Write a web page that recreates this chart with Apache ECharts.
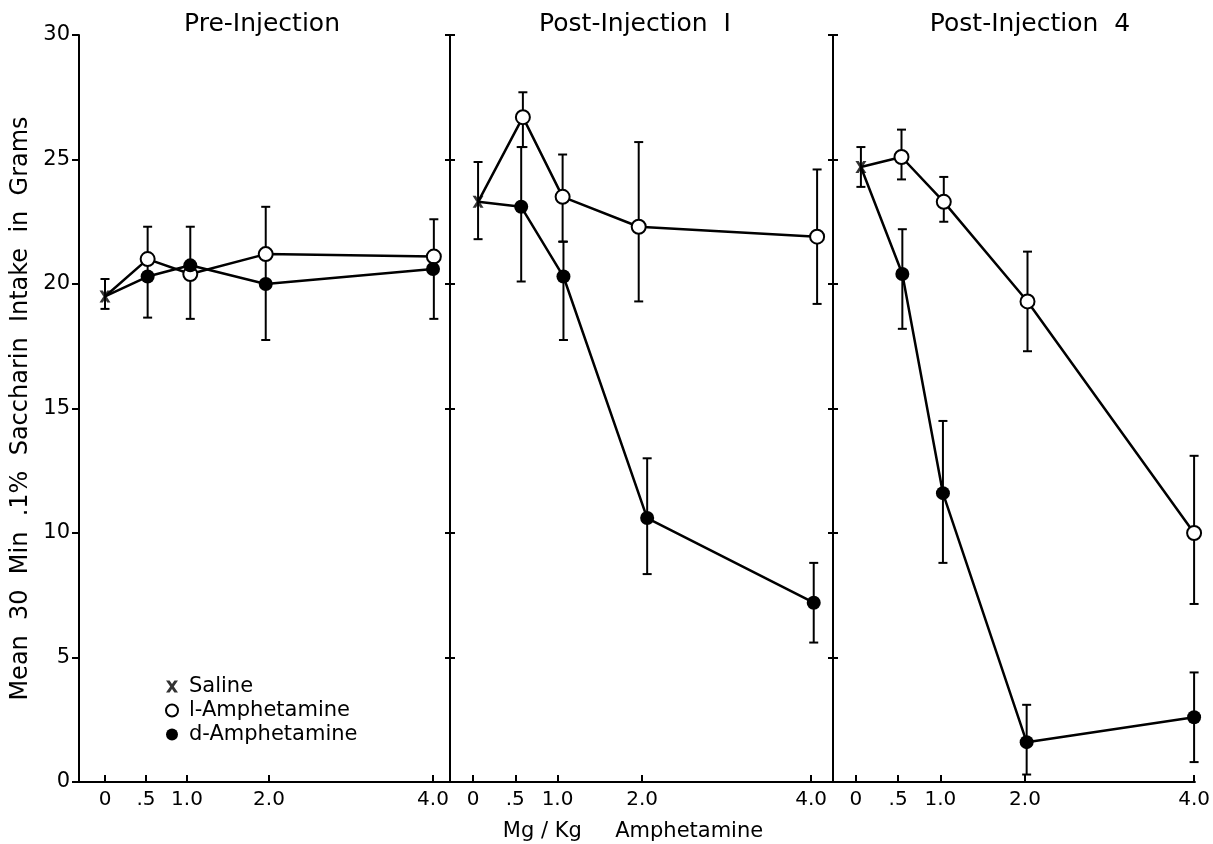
<!DOCTYPE html>
<html>
<head>
<meta charset="utf-8">
<title>Saccharin intake</title>
<script src="https://cdn.jsdelivr.net/npm/echarts/dist/echarts.min.js"></script>
<style>
  body { margin: 0; background: #fff; }
  #chart { width: 1213px; height: 844px; }
</style>
</head>
<body>
<div id="chart"></div>
<script>
// x ticks (mg/kg)
const xTickValues = [0, 0.5, 1, 2, 4];
const xTickLabels = ['0', '.5', '1.0', '2.0', '4.0'];
const panelTitles = ['Pre-Injection', 'Post-Injection  I', 'Post-Injection  4'];

// Pre-Injection
const preSaline = [[0, 19.5]];
const preL = [[0.52, 21.0], [1.04, 20.4], [1.96, 21.2], [4.01, 21.1]];
const preD = [[0.52, 20.3], [1.04, 20.75], [1.96, 20.0], [4.0, 20.6]];
const preErr = [[0, 19.0, 20.2], [0.52, 18.65, 22.3], [1.04, 18.6, 22.3], [1.96, 17.75, 23.1], [4.01, 18.6, 22.6]];

// Post-Injection 1
const post1Saline = [[0.06, 23.3]];
const post1L = [[0.59, 26.7], [1.06, 23.5], [1.96, 22.3], [4.07, 21.9]];
const post1D = [[0.57, 23.1], [1.07, 20.3], [2.06, 10.6], [4.03, 7.2]];
const post1Err = [[0.06, 21.8, 24.9], [0.59, 25.5, 27.7], [0.57, 20.1, 25.5], [1.06, 21.7, 25.2], [1.07, 17.75, 21.7],
  [1.96, 19.3, 25.7], [2.06, 8.35, 13.0], [4.07, 19.2, 24.6], [4.03, 5.6, 8.8]];

// Post-Injection 4
const post4Saline = [[0.06, 24.7]];
const post4L = [[0.54, 25.1], [1.04, 23.3], [2.03, 19.3], [4.0, 10.0]];
const post4D = [[0.55, 20.4], [1.03, 11.6], [2.02, 1.6], [4.0, 2.6]];
const post4Err = [[0.06, 23.9, 25.5], [0.54, 24.2, 26.2], [0.55, 18.2, 22.2], [1.04, 22.5, 24.3], [1.03, 8.8, 14.5],
  [2.03, 17.3, 21.3], [2.02, 0.3, 3.1], [4.0, 7.15, 13.1], [4.0, 0.8, 4.4]];

const panels = [
  { saline: preSaline, l: preL, d: preD, err: preErr },
  { saline: post1Saline, l: post1L, d: post1D, err: post1Err },
  { saline: post4Saline, l: post4L, d: post4D, err: post4Err }
];

const FONT = 'DejaVu Sans';
const grids = [
  { left: 79, top: 35, width: 371, height: 747 },
  { left: 450, top: 35, width: 383, height: 747 },
  { left: 833, top: 35, width: 363, height: 747 }
];
const xRanges = [[-0.317, 4.207], [-0.272, 4.258], [-0.27, 4.01]];
const titleX = [262, 635, 1030];
const crossPath = 'path://M0,0L3,0L5,3L7,0L10,0L6.5,5L10,10L7,10L5,7L3,10L0,10L3.5,5Z';

let chart = echarts.init(document.getElementById('chart'));

let axisLine = { show: true, onZero: false, lineStyle: { color: '#000', width: 2 } };

let xAxis = grids.map((g, i) => ({
  type: 'value',
  gridIndex: i,
  min: xRanges[i][0],
  max: xRanges[i][1],
  axisLine: axisLine,
  axisTick: { show: true, inside: true, length: 7, customValues: xTickValues, lineStyle: { color: '#000', width: 2 } },
  axisLabel: {
    customValues: xTickValues,
    margin: 8,
    color: '#000',
    fontFamily: FONT,
    fontSize: 20,
    formatter: v => xTickLabels[xTickValues.indexOf(v)]
  },
  splitLine: { show: false }
}));

function yAx(grid, pos, inside, labels) {
  let a = {
    type: 'value',
    gridIndex: grid,
    position: pos,
    min: 0,
    max: 30,
    interval: 5,
    axisLine: axisLine,
    axisTick: { show: true, inside: inside, length: inside ? 5 : 7, lineStyle: { color: '#000', width: 2 } },
    axisLabel: { show: labels, color: '#000', fontFamily: FONT, fontSize: 21, margin: 9 },
    splitLine: { show: false }
  };
  return a;
}
let yAxis = [yAx(0, 'left', false, true), yAx(0, 'right', true, false), yAx(1, 'left', true, false),
  yAx(1, 'right', true, false), yAx(2, 'left', true, false)];
yAxis[0].name = 'Mean  30  Min  .1%  Saccharin  Intake  in  Grams';
yAxis[0].nameLocation = 'middle';
yAxis[0].nameGap = 46;
yAxis[0].nameTextStyle = { color: '#000', fontFamily: FONT, fontSize: 24 };
const yIdx = [0, 2, 4];

function errRender(params, api) {
  let x = api.value(0);
  let lo = api.coord([x, api.value(1)]);
  let hi = api.coord([x, api.value(2)]);
  let st = { stroke: '#000', lineWidth: 2 };
  return {
    type: 'group',
    children: [
      { type: 'line', shape: { x1: lo[0], y1: lo[1], x2: hi[0], y2: hi[1] }, style: st },
      { type: 'line', shape: { x1: lo[0] - 4.5, y1: lo[1], x2: lo[0] + 4.5, y2: lo[1] }, style: st },
      { type: 'line', shape: { x1: hi[0] - 4.5, y1: hi[1], x2: hi[0] + 4.5, y2: hi[1] }, style: st }
    ]
  };
}

let series = [];
panels.forEach((p, i) => {
  let common = { xAxisIndex: i, yAxisIndex: yIdx[i] };
  series.push(Object.assign({
    type: 'custom', name: 'err' + i, renderItem: errRender, data: p.err, z: 2, silent: true
  }, common));
  series.push(Object.assign({
    type: 'line', name: 'lline' + i, data: p.saline.concat(p.l), symbol: 'none',
    lineStyle: { color: '#000', width: 2.5 }, z: 3, silent: true
  }, common));
  series.push(Object.assign({
    type: 'line', name: 'dline' + i, data: p.saline.concat(p.d), symbol: 'none',
    lineStyle: { color: '#000', width: 2.5 }, z: 3, silent: true
  }, common));
  series.push(Object.assign({
    type: 'scatter', name: 'Saline', data: p.saline, symbol: crossPath, symbolSize: [11, 12],
    itemStyle: { color: '#000' }, z: 4
  }, common));
  series.push(Object.assign({
    type: 'scatter', name: 'l-Amphetamine', data: p.l, symbol: 'circle', symbolSize: 14,
    itemStyle: { color: '#fff', borderColor: '#000', borderWidth: 2, opacity: 1 }, z: 4
  }, common));
  series.push(Object.assign({
    type: 'scatter', name: 'd-Amphetamine', data: p.d, symbol: 'circle', symbolSize: 14,
    itemStyle: { color: '#000', opacity: 1 }, z: 4
  }, common));
});

let graphic = panelTitles.map((t, i) => ({
  type: 'text', x: titleX[i], y: 24,
  style: { text: t, align: 'center', verticalAlign: 'middle', fill: '#000', fontFamily: FONT, fontSize: 25 }
}));
graphic.push({
  type: 'text', x: 633, y: 832,
  style: { text: 'Mg / Kg     Amphetamine', align: 'center', verticalAlign: 'middle', fill: '#000', fontFamily: FONT, fontSize: 21 }
});

let option = {
  animation: false,
  backgroundColor: '#fff',
  grid: grids,
  xAxis: xAxis,
  yAxis: yAxis,
  legend: {
    left: 160,
    top: 671,
    orient: 'vertical',
    itemWidth: 12,
    itemHeight: 12,
    itemGap: 3,
    selectedMode: false,
    textStyle: { color: '#000', fontFamily: FONT, fontSize: 21, padding: [0, 0, 0, 6] },
    data: ['Saline', 'l-Amphetamine', 'd-Amphetamine']
  },
  graphic: graphic,
  series: series
};
chart.setOption(option);
</script>
</body>
</html>
